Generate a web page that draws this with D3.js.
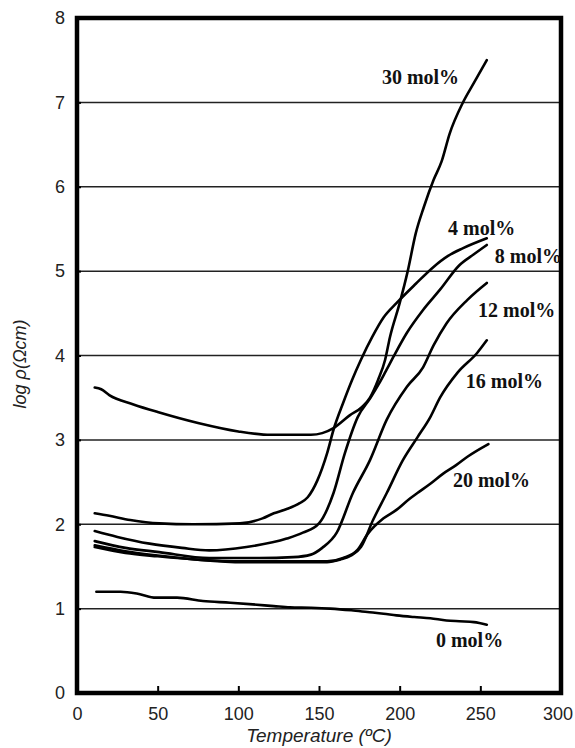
<!DOCTYPE html>
<html>
<head>
<meta charset="utf-8">
<script src="https://cdn.jsdelivr.net/npm/d3@7"></script>
<style>
  body { margin: 0; background: #fff; }
  svg { display: block; }
</style>
</head>
<body>
<div id="chart"></div>
<script>
const w = 575;
const h = 748;
const margin = { top: 18, right: 14, bottom: 55, left: 77 };

// temperature (ºC) vs log resistivity
const mol0 = [[12,1.2],[27,1.2],[37,1.18],[49,1.13],[62,1.13],[78,1.09],[95,1.07],[109,1.05],[122,1.03],[132,1.015],[145,1.01],[157,1.0],[170,0.98],[180,0.96],[190,0.94],[198,0.92],[209,0.9],[219,0.885],[229,0.86],[237,0.85],[246,0.84],[254,0.81]];
const mol4 = [[11,2.13],[20,2.1],[33,2.05],[51,2.01],[72,2.0],[101,2.01],[115,2.07],[122,2.13],[130,2.18],[138,2.25],[143,2.32],[149,2.52],[155,2.84],[159,3.12],[165,3.44],[170.5,3.71],[176,3.95],[183,4.22],[190,4.45],[198,4.62],[210,4.85],[221,5.05],[230,5.18],[239,5.27],[254,5.39]];
const mol8 = [[11,1.92],[25,1.85],[45,1.77],[65,1.72],[82,1.69],[105,1.73],[130,1.83],[140,1.9],[150,2.01],[159,2.37],[166,2.84],[174,3.27],[182,3.5],[187,3.66],[191,3.8],[196,3.98],[204.5,4.27],[214.5,4.54],[225,4.78],[237,5.07],[246,5.2],[254,5.31]];
const mol12 = [[11,1.8],[30,1.72],[51,1.67],[82,1.6],[113,1.6],[134,1.61],[145,1.64],[152,1.72],[161,1.9],[171,2.37],[181.6,2.76],[192,3.24],[204.5,3.63],[214.5,3.86],[221,4.12],[229,4.38],[242,4.66],[254,4.86]];
const mol16 = [[11,1.75],[30,1.68],[50,1.63],[75,1.58],[103,1.55],[130,1.55],[155,1.55],[163,1.58],[170,1.63],[176,1.73],[183.5,2.05],[192,2.37],[202,2.76],[211,3.03],[219,3.27],[225,3.5],[236,3.8],[248,4.03],[254,4.18]];
const mol20 = [[11,1.73],[30,1.66],[50,1.62],[75,1.58],[103,1.56],[130,1.56],[155,1.56],[165,1.6],[174,1.7],[180,1.88],[190,2.07],[198,2.17],[206,2.3],[211,2.37],[219,2.48],[227,2.6],[235,2.7],[242,2.8],[255,2.95]];
const mol30 = [[11,3.62],[15,3.6],[20,3.53],[35,3.42],[50,3.33],[75,3.2],[100,3.1],[120,3.06],[145,3.06],[152,3.08],[159,3.14],[169,3.29],[176.7,3.39],[181.6,3.5],[186.6,3.71],[191,3.95],[194,4.22],[200,4.62],[205,5.0],[210,5.45],[215,5.76],[221,6.08],[226,6.3],[231,6.63],[239,6.99],[246,7.23],[254,7.5]];

const series = [mol0, mol4, mol8, mol12, mol16, mol20, mol30];

// curve labels, anchored in data units (temperature, log rho)
const labelText = ['30 mol%', '4 mol%', '8 mol%', '12 mol%', '16 mol%', '20 mol%', '0 mol%'];
const labelAt = [[189,7.22],[230,5.43],[259,5.1],[248.6,4.46],[241,3.61],[233,2.44],[222.5,0.545]];

const xTicks = [0, 50, 100, 150, 200, 250, 300];
const yTicks = [0, 1, 2, 3, 4, 5, 6, 7, 8];

const xScale = d3.scaleLinear()
    .domain([0, 300])
    .range([margin.left, w - margin.right]);

const yScale = d3.scaleLinear()
    .domain([0, 8])
    .range([h - margin.bottom, margin.top]);

const svg = d3.select("#chart")
    .append("svg")
    .attr("width", w)
    .attr("height", h);

// horizontal grid
svg.append("g")
    .selectAll("line")
    .data(yTicks.slice(1, -1))
    .enter()
    .append("line")
    .attr("x1", xScale(0))
    .attr("x2", xScale(300))
    .attr("y1", d => yScale(d))
    .attr("y2", d => yScale(d))
    .attr("stroke", "#222")
    .attr("stroke-width", 1.5);

// axes: inside ticks, labels outside
const xAxis = d3.axisBottom(xScale).tickValues(xTicks).tickSize(-7).tickPadding(14).tickFormat(d3.format("d"));
const yAxis = d3.axisLeft(yScale).tickValues(yTicks).tickSize(-4).tickPadding(12);

const gx = svg.append("g")
    .attr("transform", "translate(0," + (h - margin.bottom) + ")")
    .call(xAxis);

const gy = svg.append("g")
    .attr("transform", "translate(" + margin.left + ",0)")
    .call(yAxis);

[gx, gy].forEach(g => {
    g.select(".domain").remove();
    g.selectAll(".tick line").attr("stroke", "#000").attr("stroke-width", 2);
    g.selectAll(".tick text")
        .attr("fill", "#222")
        .style("font-family", "'Liberation Sans', Arial, sans-serif")
        .style("font-size", "18px");
});

// last x label sits against the page edge
gx.selectAll(".tick text").filter(d => d === 300).attr("dx", "-0.2em");

// thick frame
svg.append("rect")
    .attr("x", xScale(0))
    .attr("y", yScale(8))
    .attr("width", xScale(300) - xScale(0))
    .attr("height", yScale(0) - yScale(8))
    .attr("fill", "none")
    .attr("stroke", "#000")
    .attr("stroke-width", 4.5);

const line = d3.line()
    .x(d => xScale(d[0]))
    .y(d => yScale(d[1]))
    .curve(d3.curveMonotoneX);

svg.append("g")
    .selectAll("path")
    .data(series)
    .enter()
    .append("path")
    .attr("d", line)
    .attr("fill", "none")
    .attr("stroke", "#000")
    .attr("stroke-width", 2.6)
    .attr("stroke-linejoin", "round")
    .attr("stroke-linecap", "round");

svg.append("g")
    .selectAll("text")
    .data(labelText)
    .enter()
    .append("text")
    .attr("x", (d, i) => xScale(labelAt[i][0]))
    .attr("y", (d, i) => yScale(labelAt[i][1]))
    .style("font-family", "'Liberation Serif', 'Times New Roman', serif")
    .style("font-weight", "bold")
    .style("font-size", "20px")
    .attr("fill", "#111")
    .text(d => d);

// axis titles
svg.append("text")
    .attr("x", (xScale(0) + xScale(300)) / 2)
    .attr("y", h - 6)
    .attr("text-anchor", "middle")
    .style("font-family", "'Liberation Sans', Arial, sans-serif")
    .style("font-style", "italic")
    .style("font-size", "19px")
    .attr("fill", "#222")
    .text("Temperature (ºC)");

svg.append("text")
    .attr("transform", "translate(26," + yScale(3.9) + ") rotate(-90)")
    .attr("text-anchor", "middle")
    .style("font-family", "'Liberation Sans', Arial, sans-serif")
    .style("font-style", "italic")
    .style("font-size", "18px")
    .attr("fill", "#222")
    .text("log ρ(Ωcm)");
</script>
</body>
</html>
